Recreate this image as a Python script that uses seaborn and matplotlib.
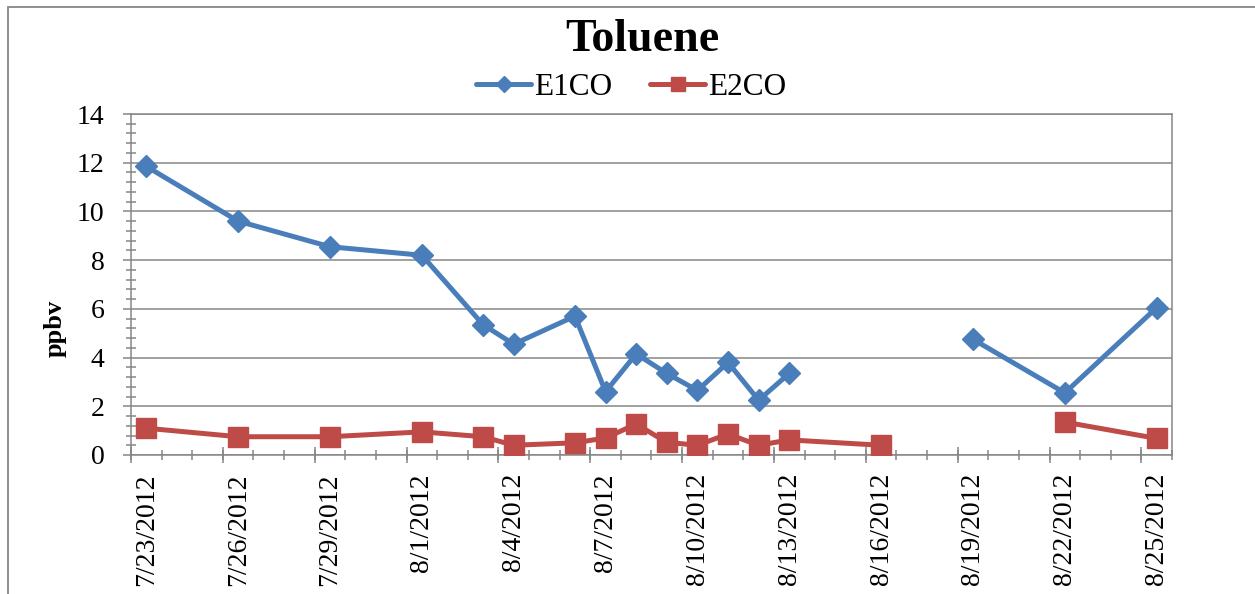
import numpy as np
import pandas as pd
import matplotlib
matplotlib.use("Agg")
import matplotlib.pyplot as plt
import matplotlib.dates as mdates
from matplotlib.lines import Line2D
from matplotlib.patches import Rectangle
from matplotlib.ticker import MultipleLocator
import seaborn as sns


# sampling dates (blank cells -> gaps in the lines)
DATES = ["2012-07-23", "2012-07-26", "2012-07-29", "2012-08-01", "2012-08-03",
         "2012-08-04", "2012-08-06", "2012-08-07", "2012-08-08", "2012-08-09",
         "2012-08-10", "2012-08-11", "2012-08-12", "2012-08-13", "2012-08-16",
         "2012-08-19", "2012-08-22", "2012-08-25"]
E1CO = [11.85, 9.6, 8.55, 8.2, 5.35, 4.55, 5.7, 2.6, 4.15, 3.35,
        2.65, 3.8, 2.25, 3.35, np.nan, 4.75, 2.55, 6.05]
E2CO = [1.1, 0.75, 0.75, 0.95, 0.75, 0.4, 0.5, 0.7, 1.27, 0.52,
        0.4, 0.86, 0.4, 0.62, 0.4, np.nan, 1.35, 0.68]
SERIES = ["E1CO", "E2CO"]
COLORS = {"E1CO": "#4A7EBB", "E2CO": "#BE4B48"}
MARKERS = {"E1CO": "D", "E2CO": "s"}
MARKER_SIZES = {"E1CO": 11, "E2CO": 14}
GRAY = "#868686"


def main():
    sns.set_theme(style="white")
    plt.rcParams["font.family"] = ["Liberation Serif", "DejaVu Serif"]
    plt.rcParams["text.color"] = "black"
    plt.rcParams["axes.labelcolor"] = "black"

    df = pd.DataFrame({"date": pd.to_datetime(DATES), "E1CO": E1CO, "E2CO": E2CO})
    long = df.melt(id_vars="date", value_vars=SERIES, var_name="series", value_name="ppbv")
    # new segment after every blank value, so lines break like in Excel
    long["segment"] = long.groupby("series")["ppbv"].transform(lambda s: s.isna().cumsum())
    long = long.dropna()

    fig, ax = plt.subplots(figsize=(12.55, 5.94), dpi=100)
    fig.subplots_adjust(left=0.10438, right=0.93386, top=0.80808, bottom=0.23401)

    for name in SERIES:
        sns.lineplot(data=long[long.series == name], x="date", y="ppbv",
                     units="segment", estimator=None, color=COLORS[name],
                     marker=MARKERS[name], markersize=MARKER_SIZES[name],
                     markeredgecolor=COLORS[name], markeredgewidth=1,
                     linewidth=3.6, legend=False, ax=ax, zorder=3)

    # x axis: date axis, points in the middle of each day
    half = pd.Timedelta(hours=12)
    first, last = pd.Timestamp(DATES[0]), pd.Timestamp(DATES[-1])
    ax.set_xlim(mdates.date2num(first - half), mdates.date2num(last + half))

    label_dates = pd.date_range(first, last, freq="3D")
    ax.set_xticks(mdates.date2num(label_dates))
    ax.set_xticklabels([f"{d.month}/{d.day}/{d.year}" for d in label_dates],
                       rotation=90, fontsize=20)
    day_edges = pd.date_range(first - half, last + half, freq="D")
    ax.set_xticks(mdates.date2num(day_edges), minor=True)
    ax.tick_params(axis="x", which="major", bottom=True, length=0, pad=13,
                   labelcolor="black")
    ax.tick_params(axis="x", which="minor", bottom=True, direction="inout",
                   length=7, width=1.1, color=GRAY)

    sec = ax.secondary_xaxis("bottom")
    sec.set_xticks(mdates.date2num(pd.date_range(first - half, last, freq="3D")))
    sec.tick_params(axis="x", bottom=True, direction="inout", length=11,
                    width=1.1, color=GRAY, labelbottom=False)
    sec.spines["bottom"].set_visible(False)

    # y axis
    ax.set_ylim(0, 14)
    ax.yaxis.set_major_locator(MultipleLocator(2))
    ax.yaxis.set_minor_locator(MultipleLocator(0.4))
    ax.tick_params(axis="y", which="major", left=True, direction="out", length=6,
                   width=1.1, color=GRAY, labelsize=20, pad=13, labelcolor="black")
    ax.tick_params(axis="y", which="minor", left=True, direction="inout",
                   length=7, width=1.1, color=GRAY)
    ax.grid(axis="y", which="major", color=GRAY, linewidth=1.1)
    ax.grid(axis="x", visible=False)
    for side in ["left", "right", "top", "bottom"]:
        ax.spines[side].set_color(GRAY)
        ax.spines[side].set_linewidth(1.1)

    ax.set_xlabel("")
    ax.set_ylabel("ppbv", fontsize=19, fontweight="bold", va="center")
    ax.yaxis.set_label_coords(-0.073, 0.372)

    fig.text(0.512, 0.932, "Toluene", ha="center", va="center",
             fontsize=33, fontweight="bold")

    handles = [Line2D([], [], color=COLORS[n], marker=MARKERS[n],
                      markersize=MARKER_SIZES[n] * 0.75, linewidth=3.6,
                      markeredgecolor=COLORS[n]) for n in SERIES]
    fig.legend(handles, SERIES, loc="center", bbox_to_anchor=(0.503, 0.852),
               ncol=2, frameon=False, fontsize=22.5, handlelength=1.76,
               handletextpad=0.1, columnspacing=1.2)

    # chart area border
    fig.add_artist(Rectangle((8 / 1255, -0.1), 1.5, 1.1 - 7 / 594,
                             transform=fig.transFigure, fill=False,
                             edgecolor=GRAY, linewidth=1.3))

    fig.savefig("out.png", dpi=100)
    plt.close(fig)


if __name__ == "__main__":
    main()
